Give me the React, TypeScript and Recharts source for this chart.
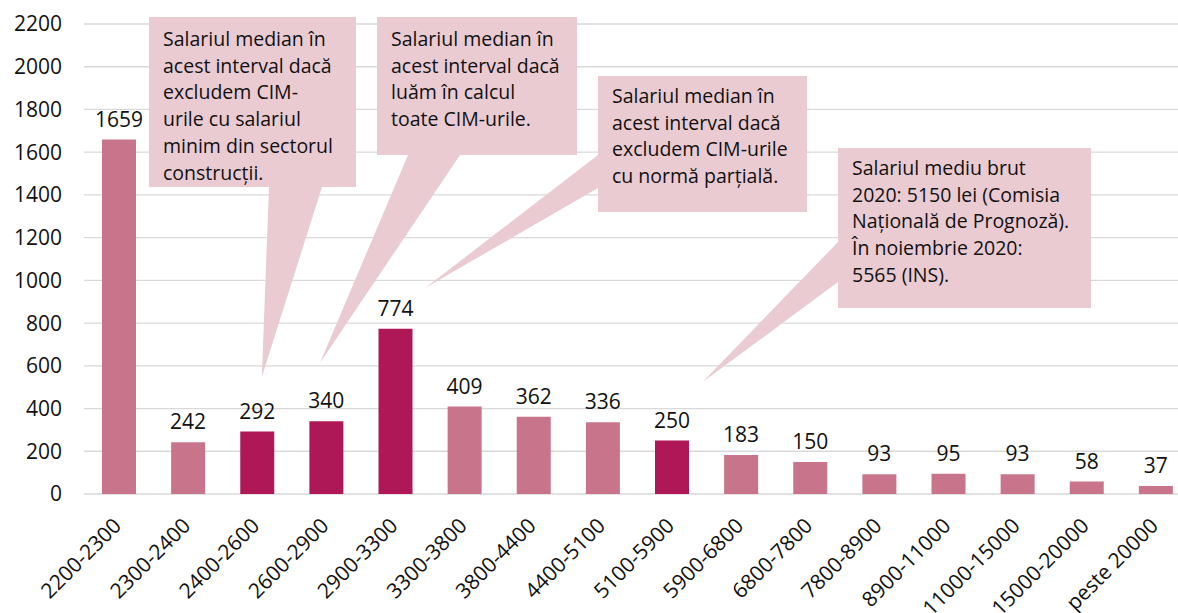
import React from 'react';
import {
  BarChart, Bar, XAxis, YAxis, CartesianGrid, Cell, LabelList, ReferenceDot,
} from 'recharts';

const categories = [
  '2200-2300', '2300-2400', '2400-2600', '2600-2900', '2900-3300', '3300-3800',
  '3800-4400', '4400-5100', '5100-5900', '5900-6800', '6800-7800', '7800-8900',
  '8900-11000', '11000-15000', '15000-20000', 'peste 20000',
];
const counts = [1659, 242, 292, 340, 774, 409, 362, 336, 250, 183, 150, 93, 95, 93, 58, 37];
const highlighted = ['2400-2600', '2600-2900', '2900-3300', '5100-5900'];
const yTicks = [0, 200, 400, 600, 800, 1000, 1200, 1400, 1600, 1800, 2000, 2200];

const data = categories.map((c, i) => ({ range: c, value: counts[i] }));

const FONT = '"Open Sans", "Noto Sans", sans-serif';
const LIGHT = '#c8748a';
const DARK = '#af1857';
const BOX = '#eacbd1';

// callout layout (pixels) — the tip is anchored on a category/value pair
interface Callout {
  cat: string;
  val: number;
  dx: number;
  box: [number, number, number, number];
  base: [number, number, number, number];
  textTop: number;
  lines: string[];
}

const callouts: Callout[] = [
  {
    cat: '2400-2600', val: 548, dx: 5,
    box: [149, 17, 207, 170], base: [269, 187, 322, 187], textTop: 46,
    lines: ['Salariul median în', 'acest interval dacă', 'excludem CIM-', 'urile cu salariul', 'minim din sectorul', 'construcții.'],
  },
  {
    cat: '2600-2900', val: 613, dx: -6,
    box: [377, 17, 200, 138], base: [408, 155, 460, 155], textTop: 46,
    lines: ['Salariul median în', 'acest interval dacă', 'luăm în calcul', 'toate CIM-urile.'],
  },
  {
    cat: '2900-3300', val: 964, dx: 30,
    box: [598, 76, 209, 136], base: [598, 155, 598, 188], textTop: 103,
    lines: ['Salariul median în', 'acest interval dacă', 'excludem CIM-urile', 'cu normă parțială.'],
  },
  {
    cat: '5100-5900', val: 524, dx: 31,
    box: [838, 148, 253, 160], base: [838, 242, 838, 282], textTop: 175,
    lines: ['Salariul mediu brut', '2020: 5150 lei (Comisia', 'Națională de Prognoză).', 'În noiembrie 2020:', '5565 (INS).'],
  },
];

function CalloutShape(props: any) {
  const { cx, cy, c } = props as { cx: number; cy: number; c: Callout };
  const [bx, by, bw, bh] = c.box;
  const [x1, y1, x2, y2] = c.base;
  return (
    <g>
      <polygon points={`${x1},${y1} ${x2},${y2} ${cx + c.dx},${cy}`} fill={BOX} />
      <rect x={bx} y={by} width={bw} height={bh} fill={BOX} />
      <text x={bx + 14} y={c.textTop} fontFamily={FONT} fontSize={19.5} fill="#111">
        {c.lines.map((l, i) => (
          <tspan key={i} x={bx + 14} dy={i === 0 ? 0 : 26.7}>{l}</tspan>
        ))}
      </text>
    </g>
  );
}

function XTick(props: any) {
  const { x, y, payload } = props;
  const ox = x + 4;
  const oy = y + 25;
  return (
    <text
      x={ox}
      y={oy}
      transform={`rotate(-45 ${ox} ${oy})`}
      textAnchor="end"
      fontFamily={FONT}
      fontSize={21}
      fill="#111"
    >
      {payload.value}
    </text>
  );
}

export default function App() {
  return (
    <div style={{ position: 'absolute', left: 0, top: 0, width: 1178, height: 613, overflow: 'hidden', background: '#fff' }}>
      <BarChart
        width={1200}
        height={613}
        data={data}
        margin={{ top: 24, right: 10, left: 0, bottom: 0 }}
        barSize={34}
      >
        <CartesianGrid vertical={false} stroke="#d9d9d9" strokeWidth={1.3} />
        <XAxis
          dataKey="range"
          interval={0}
          axisLine={false}
          tickLine={false}
          height={119}
          tick={<XTick />}
        />
        <YAxis
          domain={[0, 2200]}
          ticks={yTicks}
          width={84}
          axisLine={false}
          tickLine={false}
          tickMargin={16}
          tick={{ fontSize: 21, fill: '#111', fontFamily: FONT }}
        />
        <Bar dataKey="value" isAnimationActive={false}>
          {data.map((d) => (
            <Cell key={d.range} fill={highlighted.includes(d.range) ? DARK : LIGHT} />
          ))}
          <LabelList
            dataKey="value"
            position="top"
            offset={13}
            style={{ fontSize: 21, fill: '#111', fontFamily: FONT }}
          />
        </Bar>
        {callouts.map((c, i) => (
          <ReferenceDot
            key={i}
            x={c.cat}
            y={c.val}
            r={0}
            ifOverflow="visible"
            shape={(p: any) => <CalloutShape {...p} c={c} />}
          />
        ))}
      </BarChart>
    </div>
  );
}
